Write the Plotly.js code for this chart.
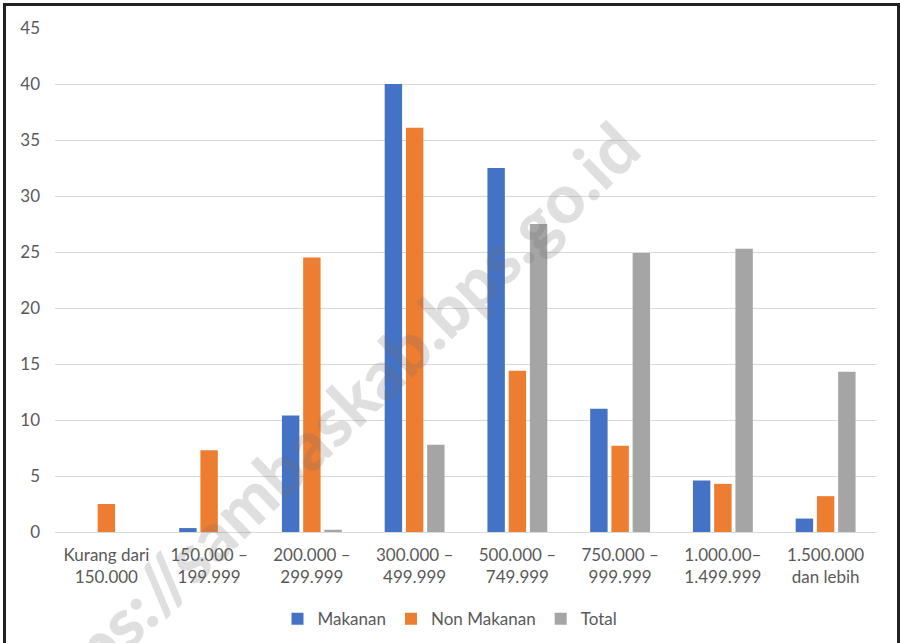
<!DOCTYPE html>
<html>
<head>
<meta charset="utf-8">
<script src="https://cdn.plot.ly/plotly-3.0.1.min.js"></script>
<style>
  html, body { margin: 0; padding: 0; background: #fff; }
  #wrap { position: relative; width: 900px; height: 643px; overflow: hidden; }
  #chart { position: absolute; left: 0; top: 0; width: 900px; height: 643px; }
  #frame { position: absolute; left: 3px; top: 3px; width: 891px; height: 645px;
           border-left: 3px solid #222; border-top: 3px solid #222; border-right: 3px solid #222;
           pointer-events: none; }
</style>
</head>
<body>
<div id="wrap">
  <div id="chart"></div>
  <div id="frame"></div>
</div>
<script>
const categories = [
  "Kurang dari<br>150.000",
  "150.000 –<br>199.999",
  "200.000 –<br>299.999",
  "300.000 –<br>499.999",
  "500.000 –<br>749.999",
  "750.000 –<br>999.999",
  "1.000.00–<br>1.499.999",
  "1.500.000<br>dan lebih"
];
const makanan    = [0, 0.35, 10.4, 40.0, 32.5, 11.0, 4.6, 1.2];
const nonMakanan = [2.5, 7.3, 24.5, 36.1, 14.4, 7.7, 4.3, 3.2];
const total      = [0, 0, 0.2, 7.8, 27.5, 24.9, 25.3, 14.3];
const yTicks     = [0, 5, 10, 15, 20, 25, 30, 35, 40, 45];
const watermark  = "https://sambaskab.bps.go.id";

const font = { family: "Lato, 'Open Sans', sans-serif", size: 17, color: "#595959" };

const traces = [
  { type: "bar", name: "Makanan", x: categories, y: makanan, marker: { color: "#4472c4" } },
  { type: "bar", name: "Non Makanan", x: categories, y: nonMakanan, marker: { color: "#ed7d31" } },
  { type: "bar", name: "Total", x: categories, y: total, marker: { color: "#a5a5a5" } }
];

const layout = {
  width: 900, height: 643,
  margin: { l: 55, r: 23, t: 28, b: 111, pad: 0 },
  paper_bgcolor: "#ffffff", plot_bgcolor: "#ffffff",
  font: font,
  barmode: "group",
  bargap: 0.38,
  bargroupgap: 0.18,
  showlegend: true,
  legend: {
    orientation: "h", xref: "container", yref: "container",
    x: 0.5, xanchor: "center", y: 0.037, yanchor: "middle",
    font: font, itemwidth: 30, traceorder: "normal"
  },
  xaxis: {
    type: "category", showgrid: false, zeroline: false, showline: false,
    ticks: "", ticklabelstandoff: 11, tickfont: font, fixedrange: true
  },
  yaxis: {
    range: [0, 45], tickvals: yTicks, ticktext: yTicks.map(String),
    showgrid: true, gridcolor: "#d9d9d9", gridwidth: 1,
    zeroline: true, zerolinecolor: "#d9d9d9", zerolinewidth: 1,
    showline: false, ticks: "", ticklabelstandoff: 14, tickfont: font, fixedrange: true
  },
  annotations: [{
    text: watermark, xref: "paper", yref: "paper",
    x: (322 - 55) / 822, y: (532 - 427) / 504,
    xanchor: "center", yanchor: "middle",
    textangle: -44, showarrow: false,
    font: { family: "Lato, 'Open Sans', sans-serif", size: 68, color: "rgba(110,110,110,0.22)", weight: 900 }
  }]
};

Plotly.newPlot("chart", traces, layout, { displayModeBar: false, staticPlot: true });
</script>
</body>
</html>
